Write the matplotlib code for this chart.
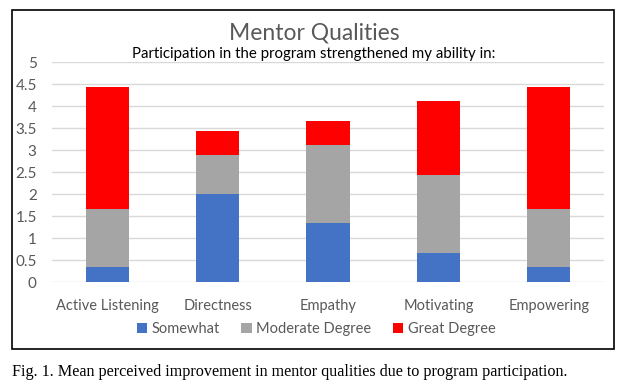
import matplotlib.pyplot as plt
import numpy as np
from matplotlib.patches import Rectangle

categories = ["Active Listening", "Directness", "Empathy", "Motivating", "Empowering"]
somewhat = [0.33, 2.0, 1.33, 0.67, 0.33]
moderate = [1.34, 0.89, 1.78, 1.77, 1.34]
great = [2.77, 0.55, 0.56, 1.67, 2.77]
series_names = ["Somewhat", "Moderate Degree", "Great Degree"]
colors = ["#4472C4", "#A5A5A5", "#FF0000"]

plt.rcParams["font.family"] = ["Lato", "DejaVu Sans"]

W, H = 626, 385
fig = plt.figure(figsize=(W / 100, H / 100), dpi=100)

# plot area in pixels
left, right, top, bottom = 52, 604, 62, 282
ax = fig.add_axes([left / W, 1 - bottom / H, (right - left) / W, (bottom - top) / H])

x = np.arange(len(categories))
bw = 0.39
b1 = ax.bar(x, somewhat, bw, color=colors[0], label=series_names[0], zorder=3)
b2 = ax.bar(x, moderate, bw, bottom=somewhat, color=colors[1], label=series_names[1], zorder=3)
base = np.array(somewhat) + np.array(moderate)
b3 = ax.bar(x, great, bw, bottom=base, color=colors[2], label=series_names[2], zorder=3)

ax.set_xlim(-0.5, len(categories) - 0.5)
ax.set_ylim(0, 5)
ax.set_yticks(np.arange(0, 5.01, 0.5))
ax.set_yticklabels(["0", "0.5", "1", "1.5", "2", "2.5", "3", "3.5", "4", "4.5", "5"])
ax.set_xticks(x)
ax.set_xticklabels(categories)
ax.tick_params(axis="both", length=0, colors="#595959")
ax.tick_params(axis="x", pad=12, labelsize=10.5)
ax.tick_params(axis="y", pad=11, labelsize=11)
ax.grid(axis="y", color="#D9D9D9", linewidth=1, zorder=0)
for s in ax.spines.values():
    s.set_visible(False)

fig.text(314 / W, 1 - 33 / H, "Mentor Qualities", ha="center", va="center",
         fontsize=16.5, color="#595959")
fig.text(314 / W, 1 - 54 / H, "Participation in the program strengthened my ability in:",
         ha="center", va="center", fontsize=10.8, color="black")

leg = fig.legend(handles=[b1, b2, b3], loc="center", bbox_to_anchor=(316 / W, 1 - 329 / H),
                 ncol=3, frameon=False, fontsize=10.5, handlelength=0.7, handleheight=0.7,
                 handletextpad=0.3, columnspacing=1.5)
for t in leg.get_texts():
    t.set_color("#595959")

# chart border
fig.patches.append(Rectangle((12 / W, 1 - 349 / H), (614 - 12) / W, (349 - 10) / H,
                             transform=fig.transFigure, fill=False, edgecolor="black",
                             linewidth=1.2))

fig.text(12 / W, 1 - 372 / H,
         "Fig. 1. Mean perceived improvement in mentor qualities due to program participation.",
         ha="left", va="center", fontsize=11.6, family="Liberation Serif", color="black")

fig.savefig("out.png", dpi=100)
